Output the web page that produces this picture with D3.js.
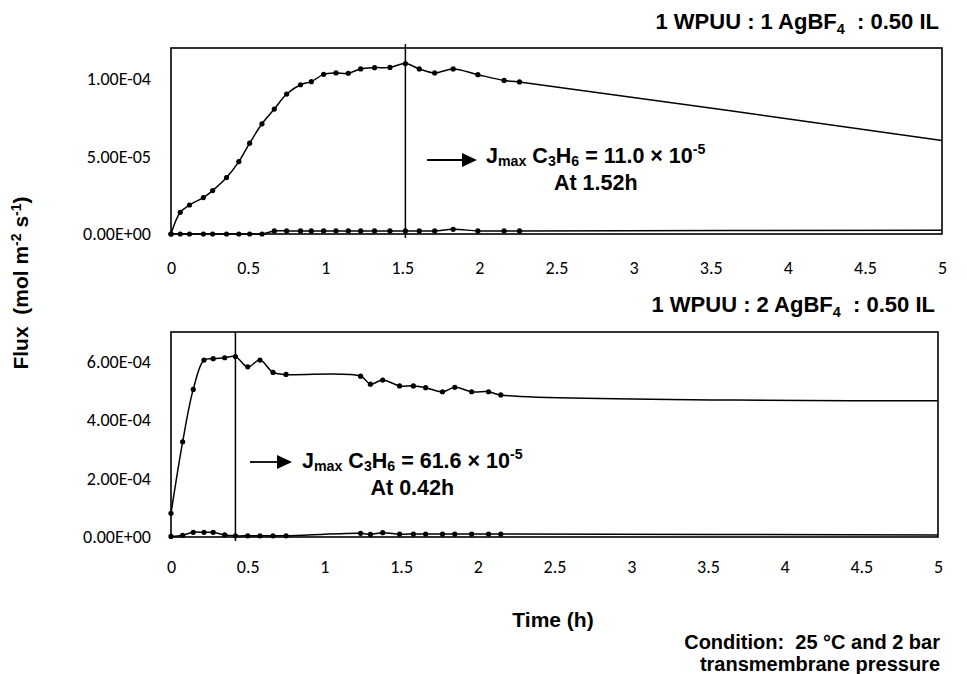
<!DOCTYPE html>
<html>
<head>
<meta charset="utf-8">
<script src="https://cdn.jsdelivr.net/npm/d3@7"></script>
<style>
  body { margin: 0; background: #fff; }
  text { fill: #000; white-space: pre; }
</style>
</head>
<body>
<svg id="chart" width="967" height="674"></svg>
<script>
// ---- Panel A: 1 WPUU : 1 AgBF4 : 0.50 IL ----
const timeA = [0, 0.06, 0.12, 0.21, 0.27, 0.36, 0.44, 0.51, 0.59, 0.67, 0.75, 0.84, 0.91, 0.99,
               1.07, 1.15, 1.23, 1.32, 1.42, 1.52, 1.61, 1.71, 1.83, 1.99, 2.16, 2.26];
const upperA = [0, 1.40e-5, 1.87e-5, 2.35e-5, 2.80e-5, 3.64e-5, 4.67e-5, 5.86e-5, 7.11e-5, 8.06e-5,
                9.03e-5, 9.63e-5, 9.83e-5, 10.30e-5, 10.39e-5, 10.37e-5, 10.65e-5, 10.73e-5, 10.75e-5,
                11.0e-5, 10.65e-5, 10.39e-5, 10.65e-5, 10.28e-5, 9.91e-5, 9.81e-5];
const lowerA = [0, 0, 0, 0, 0, 0, 0, 0, 0, 2.0e-6, 2.0e-6, 2.0e-6, 2.0e-6, 2.0e-6, 2.0e-6, 2.0e-6,
                2.0e-6, 2.0e-6, 2.0e-6, 2.0e-6, 2.0e-6, 2.0e-6, 3.0e-6, 2.0e-6, 2.0e-6, 2.0e-6];
const tailTimeA = 5;
const tailUpperA = 6.03e-5;
const tailLowerA = 2.4e-6;
const yTicksA = [0, 5e-5, 1e-4];
const yMaxA = 1.2e-4;
const peakA = { t: 1.52, j: 11.0 };

// ---- Panel B: 1 WPUU : 2 AgBF4 : 0.50 IL ----
const timeB = [0, 0.076, 0.145, 0.215, 0.275, 0.35, 0.42, 0.50, 0.58, 0.665, 0.75,
               1.236, 1.30, 1.38, 1.49, 1.58, 1.66, 1.77, 1.85, 1.96, 2.07, 2.15];
const upperB = [8.1e-5, 3.25e-4, 5.04e-4, 6.04e-4, 6.09e-4, 6.12e-4, 6.16e-4, 5.81e-4, 6.04e-4, 5.62e-4, 5.55e-4,
                5.49e-4, 5.22e-4, 5.36e-4, 5.16e-4, 5.16e-4, 5.10e-4, 4.96e-4, 5.11e-4, 4.96e-4, 4.96e-4, 4.85e-4];
const lowerB = [2e-6, 6e-6, 1.6e-5, 1.6e-5, 1.6e-5, 7e-6, 4e-6, 4e-6, 4e-6, 4e-6, 4e-6,
                1.26e-5, 9e-6, 1.47e-5, 1.0e-5, 1.0e-5, 1.0e-5, 1.0e-5, 1.0e-5, 1.0e-5, 1.0e-5, 1.0e-5];
const tailTimeB = 5;
const tailUpperB = 4.65e-4;
const tailLowerB = 7e-6;
const yTicksB = [0, 2e-4, 4e-4, 6e-4];
const yMaxB = 7e-4;
const peakB = { t: 0.42, j: 61.6 };

const xTicks = [0, 0.5, 1, 1.5, 2, 2.5, 3, 3.5, 4, 4.5, 5];

const svg = d3.select("#chart");
const boldFont = "'Liberation Sans', Arial, sans-serif";
const tickFont = "Carlito, Lato, 'Liberation Sans', sans-serif";
const boldSize = 21;
const tickSize = 18;

// Excel-style scientific labels, e.g. 1.00E-04
function sci(v) {
  if (v === 0) return "0.00E+00";
  const [m, e] = v.toExponential(2).split("e");
  const n = +e;
  return m + "E" + (n < 0 ? "-" : "+") + String(Math.abs(n)).padStart(2, "0");
}

function boldText(sel, size) {
  return sel.attr("font-family", boldFont).attr("font-weight", "bold").attr("font-size", size || boldSize);
}

function panel(cfg) {
  const x = d3.scaleLinear().domain([0, 5]).range([cfg.left, cfg.right]);
  const y = d3.scaleLinear().domain([0, cfg.yMax]).range([cfg.bottom, cfg.top]);
  const g = svg.append("g");

  // plot frame
  g.append("rect")
    .attr("x", cfg.left).attr("y", cfg.top)
    .attr("width", cfg.right - cfg.left).attr("height", cfg.bottom - cfg.top)
    .attr("fill", "none").attr("stroke", "#000").attr("stroke-width", 1.6);

  // y tick labels
  const yAxis = d3.axisLeft(y).tickValues(cfg.yTicks).tickFormat(sci).tickSize(0).tickPadding(20);
  const ya = g.append("g").attr("transform", `translate(${cfg.left},0)`).call(yAxis);
  ya.select(".domain").remove();
  ya.selectAll("text").attr("font-family", tickFont).attr("font-size", tickSize).attr("fill", "#000");

  // x tick labels
  const xAxis = d3.axisBottom(x).tickValues(xTicks).tickFormat(d3.format("")).tickSize(0).tickPadding(cfg.xPad);
  const xa = g.append("g").attr("transform", `translate(0,${cfg.bottom})`).call(xAxis);
  xa.select(".domain").remove();
  xa.selectAll("text").attr("font-family", tickFont).attr("font-size", tickSize).attr("fill", "#000");

  const line = d3.line().x(d => x(d[0])).y(d => y(d[1])).curve(d3.curveCatmullRom.alpha(0.5));

  [[cfg.lower, cfg.tailLower], [cfg.upper, cfg.tailUpper]].forEach(([vals, tail]) => {
    const pts = cfg.time.map((t, i) => [t, vals[i]]);
    g.append("path")
      .attr("d", line(pts.concat([[cfg.tailTime, tail]])))
      .attr("fill", "none").attr("stroke", "#000").attr("stroke-width", 1.5);
    g.selectAll(null).data(pts).join("circle")
      .attr("cx", d => x(d[0])).attr("cy", d => y(d[1])).attr("r", 2.6).attr("fill", "#000");
  });

  // marker line at the time of maximum flux
  g.append("line")
    .attr("x1", x(cfg.peak.t)).attr("x2", x(cfg.peak.t))
    .attr("y1", cfg.top - cfg.vlExtTop).attr("y2", cfg.bottom + 4)
    .attr("stroke", "#000").attr("stroke-width", 1.5);

  // arrow
  const [ax0, ax1, ay] = cfg.arrow;
  g.append("line").attr("x1", ax0).attr("x2", ax1 - 12).attr("y1", ay).attr("y2", ay)
    .attr("stroke", "#000").attr("stroke-width", 1.8);
  g.append("path").attr("d", `M${ax1 - 15},${ay - 7}L${ax1},${ay}L${ax1 - 15},${ay + 7}Z`).attr("fill", "#000");

  // annotation
  const fs = 21.5, sub = fs * 0.66;
  const t1 = boldText(g.append("text").attr("x", cfg.annX).attr("y", cfg.annY), fs);
  t1.append("tspan").text("J");
  t1.append("tspan").attr("font-size", sub).attr("dy", 3).text("max");
  t1.append("tspan").attr("dy", -3).text(" C");
  t1.append("tspan").attr("font-size", sub).attr("dy", 3).text("3");
  t1.append("tspan").attr("dy", -3).text("H");
  t1.append("tspan").attr("font-size", sub).attr("dy", 3).text("6");
  t1.append("tspan").attr("dy", -3).text(` = ${cfg.peak.j.toFixed(1)} × 10`);
  t1.append("tspan").attr("font-size", sub).attr("dy", -9).text("-5");
  const len = t1.node().getComputedTextLength();
  boldText(g.append("text").attr("x", cfg.annX + len / 2).attr("y", cfg.annY + cfg.annGap), fs)
    .attr("text-anchor", "middle")
    .text(`At ${cfg.peak.t}h`);

  // composition title
  const ts = 22, tsub = ts * 0.66;
  const tt = boldText(g.append("text").attr("x", cfg.right - 3).attr("y", cfg.titleY), ts)
    .attr("text-anchor", "end");
  tt.append("tspan").text(`1 WPUU : ${cfg.ag} AgBF`);
  tt.append("tspan").attr("font-size", tsub).attr("dy", 5).text("4");
  tt.append("tspan").attr("dy", -5).text("  : 0.50 IL");
}

panel({
  left: 171, right: 942, top: 48, bottom: 234, yMax: yMaxA, yTicks: yTicksA, xPad: 27,
  time: timeA, upper: upperA, lower: lowerA,
  tailTime: tailTimeA, tailUpper: tailUpperA, tailLower: tailLowerA,
  peak: peakA, vlExtTop: 4, arrow: [427, 477, 160], annX: 486, annY: 163, annGap: 27,
  ag: 1, titleY: 29
});

panel({
  left: 171, right: 938, top: 332, bottom: 537, yMax: yMaxB, yTicks: yTicksB, xPad: 23,
  time: timeB, upper: upperB, lower: lowerB,
  tailTime: tailTimeB, tailUpper: tailUpperB, tailLower: tailLowerB,
  peak: peakB, vlExtTop: 0, arrow: [250, 292, 462], annX: 302, annY: 468, annGap: 27,
  ag: 2, titleY: 312
});

// shared axis titles
const yt = boldText(svg.append("text"))
  .attr("transform", "translate(28,283) rotate(-90)")
  .attr("text-anchor", "middle");
yt.append("tspan").text("Flux  (mol m");
yt.append("tspan").attr("font-size", 14).attr("dy", -7).text("-2");
yt.append("tspan").attr("dy", 7).text(" s");
yt.append("tspan").attr("font-size", 14).attr("dy", -7).text("-1");
yt.append("tspan").attr("dy", 7).text(")");

boldText(svg.append("text")).attr("x", 553).attr("y", 627).attr("text-anchor", "middle")
  .text("Time (h)");

boldText(svg.append("text"), 20).attr("x", 940).attr("y", 649).attr("text-anchor", "end")
  .text("Condition:  25 °C and 2 bar");
boldText(svg.append("text"), 20).attr("x", 940).attr("y", 671).attr("text-anchor", "end")
  .text("transmembrane pressure");
</script>
</body>
</html>
